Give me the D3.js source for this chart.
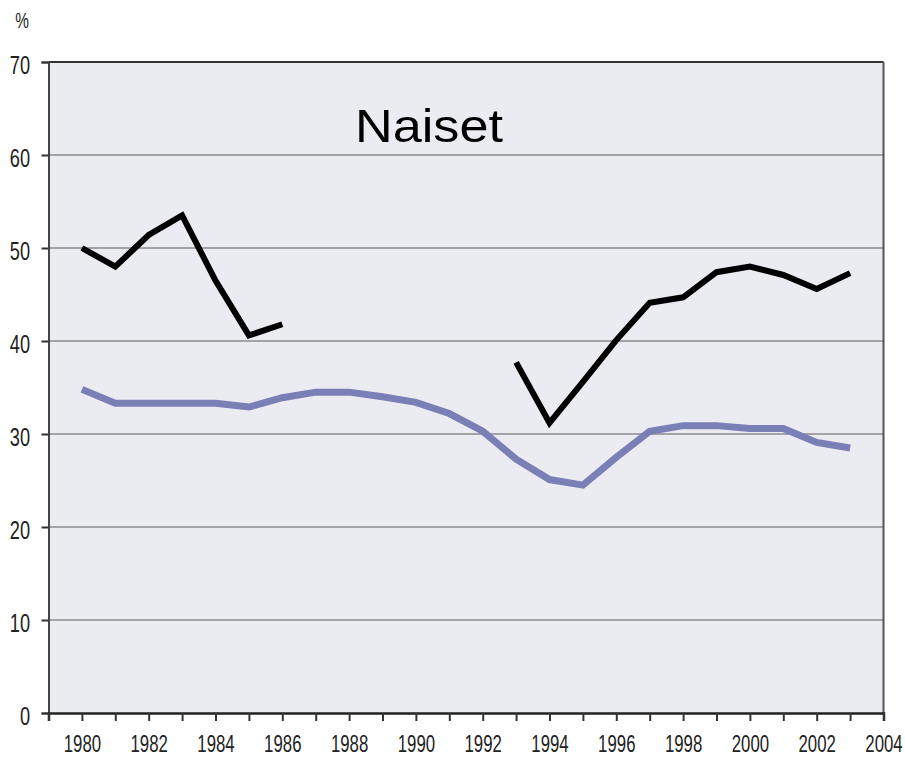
<!DOCTYPE html>
<html>
<head>
<meta charset="utf-8">
<script src="https://cdn.jsdelivr.net/npm/d3@7"></script>
<style>
  html, body { margin: 0; padding: 0; background: #ffffff; }
  svg { display: block; }
  .tick text { font-family: "Liberation Sans", Arial, sans-serif; }
</style>
</head>
<body>
<svg id="chart" width="905" height="759"></svg>
<script>
// ---- data ----
const years = [1980,1981,1982,1983,1984,1985,1986,1987,1988,1989,1990,1991,1992,1993,1994,1995,1996,1997,1998,1999,2000,2001,2002,2003];
// black series (gap 1987-1992 = null)
const blackValues = [50.0,48.0,51.4,53.5,46.5,40.6,41.8,null,null,null,null,null,null,37.7,31.2,35.6,40.1,44.1,44.7,47.4,48.0,47.1,45.6,47.3];
// blue series
const blueValues = [34.8,33.3,33.3,33.3,33.3,32.9,33.9,34.5,34.5,34.0,33.4,32.2,30.3,27.3,25.1,24.5,27.5,30.3,30.9,30.9,30.6,30.6,29.1,28.5];
const yTicks = [0,10,20,30,40,50,60,70];
const xLabelYears = [1980,1982,1984,1986,1988,1990,1992,1994,1996,1998,2000,2002,2004];
const xTickYears = d3.range(1979, 2005);
const title = "Naiset";
const unitLabel = "%";

(function () {
// ---- layout ----
const svg = d3.select("#chart");
const pl = 48.5, pr = 883.5, pt = 62, pb = 713;
const sx = 0.7; // horizontal condensing of tick labels

const x = d3.scaleLinear().domain([1979, 2004]).range([pl, pr]);
const y = d3.scaleLinear().domain([0, 70]).range([pb, pt]);

// background
svg.append("rect")
  .attr("x", pl).attr("y", pt)
  .attr("width", pr - pl).attr("height", pb - pt)
  .attr("fill", "#ebebf2");

// gridlines
svg.append("g")
  .selectAll("line")
  .data(yTicks.filter(d => d > 0 && d < 70))
  .join("line")
  .attr("x1", pl).attr("x2", pr)
  .attr("y1", d => y(d)).attr("y2", d => y(d))
  .attr("stroke", "#8a8a8e").attr("stroke-width", 1.5);

// frame: top and right
svg.append("line").attr("x1", pl).attr("x2", pr).attr("y1", pt).attr("y2", pt)
  .attr("stroke", "#333").attr("stroke-width", 2);
svg.append("line").attr("x1", pr).attr("x2", pr).attr("y1", pt).attr("y2", pb)
  .attr("stroke", "#555").attr("stroke-width", 2);

// y axis
const yAxis = d3.axisLeft(y).tickValues(yTicks).tickSize(7).tickPadding(10).tickFormat(d3.format("d"));
const gy = svg.append("g").attr("transform", `translate(${pl},0)`).call(yAxis);
gy.select(".domain").attr("stroke", "#444").attr("stroke-width", 2);
gy.selectAll(".tick line").attr("stroke", "#333").attr("stroke-width", 2);
gy.selectAll(".tick text")
  .attr("font-size", 26).attr("fill", "#222")
  .attr("x", -18.5 / sx).attr("dy", "0.45em")
  .attr("transform", `scale(${sx},1)`);

// x axis ticks (every year)
const xAxisTicks = d3.axisBottom(x).tickValues(xTickYears).tickSize(8).tickFormat("");
const gxt = svg.append("g").attr("transform", `translate(0,${pb})`).call(xAxisTicks);
gxt.select(".domain").attr("stroke", "#222").attr("stroke-width", 2.5);
gxt.selectAll(".tick line").attr("stroke", "#333").attr("stroke-width", 2);

// x axis labels
const xAxisLabels = d3.axisBottom(x).tickValues(xLabelYears).tickSize(0).tickPadding(22).tickFormat(d3.format("d"));
const gxl = svg.append("g").attr("transform", `translate(0,${pb})`).call(xAxisLabels);
gxl.select(".domain").remove();
gxl.selectAll(".tick text")
  .attr("font-size", 24).attr("fill", "#222")
  .attr("transform", `scale(${sx},1)`);

// lines
const blueLine = d3.line()
  .x((d, i) => x(years[i]))
  .y(d => y(d));
svg.append("path")
  .datum(blueValues)
  .attr("fill", "none")
  .attr("stroke", "#7a80b6")
  .attr("stroke-width", 7)
  .attr("stroke-linejoin", "miter")
  .attr("d", blueLine);

const blackLine = d3.line()
  .defined(d => d !== null)
  .x((d, i) => x(years[i]))
  .y(d => y(d));
svg.append("path")
  .datum(blackValues)
  .attr("fill", "none")
  .attr("stroke", "#000")
  .attr("stroke-width", 6)
  .attr("stroke-linejoin", "miter")
  .attr("d", blackLine);

// title
svg.append("text")
  .attr("x", 355).attr("y", 142)
  .attr("font-family", "Liberation Sans, Arial, sans-serif")
  .attr("font-size", 47)
  .attr("textLength", 148)
  .attr("lengthAdjust", "spacingAndGlyphs")
  .attr("fill", "#000")
  .text(title);

// unit
svg.append("text")
  .attr("transform", `translate(22,28) scale(${sx},1)`)
  .attr("text-anchor", "middle")
  .attr("font-family", "Liberation Sans, Arial, sans-serif")
  .attr("font-size", 22)
  .attr("fill", "#222")
  .text(unitLabel);
})();
</script>
</body>
</html>
